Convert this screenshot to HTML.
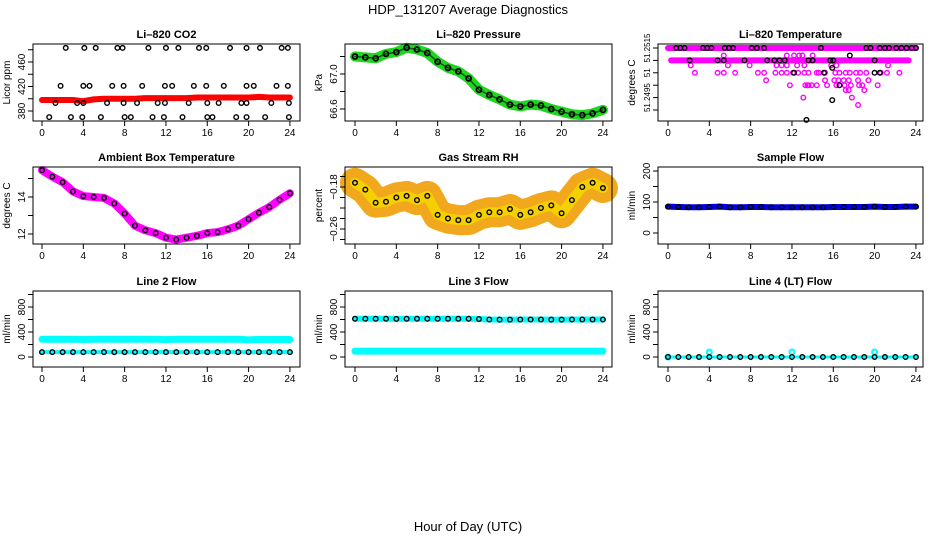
<!DOCTYPE html>
<html><head><meta charset="utf-8"><style>
html,body{margin:0;padding:0;background:#fff}
svg{display:block;font-family:"Liberation Sans",sans-serif}
</style></head><body>
<svg id="c" width="936" height="540" viewBox="0 0 936 540">
<text x="468" y="14" text-anchor="middle" font-size="13">HDP_131207  Average Diagnostics</text>
<text x="468" y="531" text-anchor="middle" font-size="13">Hour of Day (UTC)</text>
</svg>
<script>
// ---------- data ----------
const xTicks=[0,4,8,12,16,20,24];
const hours=[0,1,2,3,4,5,6,7,8,9,10,11,12,13,14,15,16,17,18,19,20,21,22,23,24];
// CO2
const co2Band=[398,398,398,398,396,399,400,400,400,400,401,401,401,401,401,402,402,402,402,402,402,403,402,402,402];
const co2HiHours=[2.3,4.1,5.2,7.3,7.8,10.3,12.0,13.2,15.2,15.9,18.2,19.8,21.1,23.2,23.8];
const co2MidHours=[1.8,4.0,4.6,6.8,7.9,9.7,11.9,12.6,14.7,15.9,17.6,19.8,20.5,22.7,23.8];
const co2BaseHours=[1.3,3.4,4.0,6.3,7.9,9.2,11.2,11.9,14.2,16.0,17.1,19.3,19.8,22.2,23.9];
const co2LowHours=[0.7,2.8,3.9,5.7,8.0,8.6,10.7,11.8,13.6,16.0,16.5,18.8,19.8,21.6,23.9];
const co2Levels=[483,421,393,370];
// Pressure
const pressure=[67.2,67.19,67.18,67.23,67.25,67.30,67.28,67.24,67.14,67.07,67.03,66.95,66.82,66.76,66.71,66.65,66.63,66.65,66.64,66.60,66.57,66.54,66.53,66.55,66.59];
// Li-820 temperature
const tTopBlack=[0.8,1.2,1.6,3.4,3.8,4.2,5.5,5.9,6.3,8.1,8.6,9.3,14.8,19.2,19.6,20.5,21,21.4,22.1,22.6,23.1,23.6,24];
const t2Black=[2.1,4.8,5.4,7.4,9.6,10.3,10.8,11.3,13.6,14.0,15.7,16.0,20.0];
const tOtherBlackH=[17.6,15.9,12.2,15.1,20.0,20.5,16.6,15.9,13.4];
const tOtherBlackV=[51.2512,51.2507,51.2505,51.2505,51.2505,51.2505,51.25,51.2494,51.2486];
const tMagH=[5.4,11.5,12.2,12.7,13.0,14.0, 2.2,5.8,7.9,10.5,11.0,11.5,12.5,13.2,15.8,16.3,21.3, 2.6,4.8,5.4,6.5,8.7,9.3,10.4,11.0,11.5,12.1,12.6,13.2,13.6,14.4,15.2,16.2,16.6,17.2,17.6,18.2,18.6,19.2,20.6,21.2,22.4, 14.6,15.2,16.1,16.5,17.0,17.5,18.4,19.4, 9.5,11.8,13.3,13.6,13.9,14.4,15.4,16.3,17.1,17.7,18.5,18.8,20.3, 13.5,17.5,19.0,17.2,17.8,13.1,18.4];
const tMagV=[51.2512,51.2512,51.2512,51.2512,51.2512,51.2512, 51.2508,51.2508,51.2508,51.2508,51.2508,51.2508,51.2508,51.2508,51.2508,51.2508,51.2508, 51.2505,51.2505,51.2505,51.2505,51.2505,51.2505,51.2505,51.2505,51.2505,51.2505,51.2505,51.2505,51.2505,51.2505,51.2505,51.2505,51.2505,51.2505,51.2505,51.2505,51.2505,51.2505,51.2505,51.2505,51.2505,51.2505, 51.2502,51.2502,51.2502,51.2502,51.2502,51.2502,51.2502,51.2502, 51.25,51.25,51.25,51.25,51.25,51.25,51.25,51.25,51.25,51.25,51.25,51.25,51.25, 51.2498,51.2498,51.2498,51.2495,51.2495,51.2492,51.2492];
// Ambient
const ambient=[15.45,15.1,14.8,14.3,14.05,14.0,13.95,13.65,13.1,12.45,12.2,12.05,11.8,11.7,11.8,11.9,12.05,12.1,12.25,12.45,12.8,13.15,13.45,13.85,14.2];
// RH
const rh=[-0.172,-0.185,-0.21,-0.208,-0.20,-0.197,-0.205,-0.197,-0.233,-0.24,-0.243,-0.243,-0.233,-0.228,-0.228,-0.222,-0.233,-0.228,-0.22,-0.215,-0.23,-0.205,-0.18,-0.172,-0.182];
// Flows
const sampleFlow=[85,84,83,83,84,85,83,83,84,84,83,83,83,83,83,83,84,84,84,84,85,84,84,85,85];
const line2Cyan=[285,285,285,285,280,285,285,285,285,285,285,285,278,285,285,285,285,285,285,285,275,280,280,280,280];
const line2Black=[78,78,78,78,78,78,78,78,78,78,78,78,78,78,78,78,78,78,78,78,78,78,78,78,78];
const line3Black=[612,612,612,612,610,612,612,612,612,612,612,612,608,600,598,598,600,600,600,598,598,600,600,600,600];
const line3Cyan=[94,94,94,94,94,94,94,94,94,94,94,94,94,94,94,94,94,94,94,94,94,94,94,94,94];
const line4Black=[0,0,0,0,0,0,0,0,0,0,0,0,0,0,0,0,0,0,0,0,0,0,0,0,0];
const line4CyanH=[0,4,12,20];
const line4CyanV=[0,80,80,80];

// ---------- drawing ----------
const svg=document.getElementById('c');
const NS='http://www.w3.org/2000/svg';
function mk(tag,attrs,parent){const e=document.createElementNS(NS,tag);for(const k in attrs)e.setAttribute(k,attrs[k]);(parent||svg).appendChild(e);return e;}
const cols=[{x0:33,x1:300,xz:42},{x0:345,x1:612,xz:355},{x0:658,x1:923,xz:668}];
const rows=[{y0:44,y1:121},{y0:167,y1:244},{y0:291,y1:367}];
const PXH=10.33;

function panel(name,c,r,title,ylab,yfn,yt,ylabs,lfs){
  const g=mk('g',{});
  
  
  const C=cols[c],R=rows[r];
  const xf=h=>C.xz+h*PXH;
  const t=mk('text',{x:(C.x0+C.x1)/2,y:R.y0-6,'text-anchor':'middle','font-size':11,'font-weight':'bold'},g);
  t.textContent=title;
  
  
  const yl=mk('text',{transform:`translate(${C.x0-23},${(R.y0+R.y1)/2}) rotate(-90)`,'text-anchor':'middle','font-size':10},g);
  yl.textContent=ylab;
  
  
  const plot=mk('g',{},g);
  
  
  const ax=mk('g',{stroke:'#000','stroke-width':1,fill:'none'},g);
  
  
  mk('rect',{x:C.x0,y:R.y0,width:C.x1-C.x0,height:R.y1-R.y0},ax);
  mk('line',{x1:xf(0),x2:xf(24),y1:R.y1,y2:R.y1},ax);
  xTicks.forEach(v=>{
    const x=xf(v);
    mk('line',{x1:x,x2:x,y1:R.y1,y2:R.y1+5},ax);
    const tl=mk('text',{x:x,y:R.y1+15,'text-anchor':'middle','font-size':10},g);
    tl.textContent=v;
    
    
  });
  mk('line',{x1:C.x0,x2:C.x0,y1:yfn(yt[0]),y2:yfn(yt[yt.length-1])},ax);
  yt.forEach(v=>{const y=yfn(v);mk('line',{x1:C.x0-5,x2:C.x0,y1:y,y2:y},ax);});
  ylabs.forEach(([v,s])=>{
    const y=yfn(v);
    const tl=mk('text',{transform:`translate(${C.x0-8},${y}) rotate(-90)`,'text-anchor':'middle','font-size':lfs||10},g);
    tl.textContent=s;
    
    
  });
  return {g:plot,xf,yfn};
}
function band(P,hs,vs,color,w,name){
  const pts=hs.map((h,i)=>P.xf(h)+','+P.yfn(vs[i])).join(' ');
  const pl=mk('polyline',{points:pts,fill:'none',stroke:color,'stroke-width':w,'stroke-linejoin':'round','stroke-linecap':'round'},P.g);
  
  
}
function pts(P,hs,vs,color,name,r,sw){
  hs.forEach((h,i)=>{
    const v=Array.isArray(vs)?vs[i]:vs;
    const ci=mk('circle',{cx:P.xf(h),cy:P.yfn(v),r:r||2.3,fill:'none',stroke:color,'stroke-width':sw||1.4},P.g);
    
    
  });
}
function ticks(a,b,s){const o=[];for(let v=a;v<=b+1e-9;v+=s)o.push(+v.toFixed(6));return o;}

// CO2
let P=panel('co2',0,0,'Li\u2013820 CO2','Licor ppm',v=>111-(v-380)*0.6125,ticks(380,480,20),[[380,'380'],[420,'420'],[460,'460']]);
band(P,hours,co2Band,'#f00',6,'co2-band');
[co2HiHours,co2MidHours,co2BaseHours,co2LowHours].forEach((hs,i)=>pts(P,hs,co2Levels[i],'#000','co2-point'));
// Pressure
P=panel('pressure',1,0,'Li\u2013820 Pressure','kPa',v=>109-(v-66.6)*87.5,[66.6,66.8,67.0,67.2],[[66.6,'66.6'],[67.0,'67.0']]);
band(P,hours,pressure,'#1fd61f',10,'pressure-band');
band(P,hours,pressure,'#0a5a0a',1.5,'pressure-line');
pts(P,hours,pressure,'#000','pressure-point',2.5,1.8);
// Temperature
P=panel('li820-temp',2,0,'Li\u2013820 Temperature','degrees C',v=>48+(51.2515-v)*24800,[51.2515,51.251,51.2505,51.25,51.2495,51.249],[[51.2515,'51.2515'],[51.2505,'51'],[51.2495,'51.2495']],8);
band(P,[0,24],[51.2515,51.2515],'#f0f',6,'temp-band-top');
band(P,[0.3,23.3],[51.251,51.251],'#f0f',6,'temp-band-second');
pts(P,tMagH,tMagV,'#f0f','temp-magenta-point');
pts(P,tTopBlack,51.2515,'#000','temp-point');
pts(P,t2Black,51.251,'#000','temp-point');
pts(P,tOtherBlackH,tOtherBlackV,'#000','temp-point');
// Ambient
P=panel('ambient',0,1,'Ambient Box Temperature','degrees C',v=>234-(v-12)*18.5,[12,13,14,15],[[12,'12'],[14,'14']]);
band(P,hours,ambient,'#f0f',8,'ambient-band');
pts(P,hours,ambient,'#000','ambient-point');
// RH
P=panel('rh',1,1,'Gas Stream RH','percent',v=>187+(-0.18-v)*525,[-0.16,-0.18,-0.20,-0.22,-0.24,-0.26,-0.28],[[-0.18,'\u22120.18'],[-0.26,'\u22120.26']]);
band(P,hours,rh,'#f2a81c',30,'rh-cloud');
band(P,hours,rh,'#f5d000',10,'rh-cloud-core');
pts(P,hours,rh,'#000','rh-point');
// Sample flow
P=panel('sample-flow',2,1,'Sample Flow','ml/min',v=>233-v*0.31,[0,50,100,150,200],[[0,'0'],[100,'100'],[200,'200']]);
band(P,hours,sampleFlow,'#0000e0',6,'sample-flow-band');
pts(P,hours,sampleFlow,'#000','sample-flow-point');
// Line flows
const fy=v=>357-v*0.0625;
const ft=[0,200,400,600,800,1000],fl=[[0,'0'],[400,'400'],[800,'800']];
P=panel('line2',0,2,'Line 2 Flow','ml/min',fy,ft,fl);
band(P,hours,line2Cyan,'#0ff',7,'line2-cyan-band');
band(P,hours,line2Black,'#0ff',4,'line2-cyan-low');
pts(P,hours,line2Black,'#000','line2-point');
P=panel('line3',1,2,'Line 3 Flow','ml/min',fy,ft,fl);
band(P,hours,line3Black,'#0ff',6,'line3-cyan-band');
band(P,hours,line3Cyan,'#0ff',7,'line3-cyan-low');
pts(P,hours,line3Black,'#000','line3-point');
P=panel('line4',2,2,'Line 4 (LT) Flow','ml/min',fy,ft,fl);
band(P,hours,line4Black,'#0ff',3,'line4-cyan-band');
pts(P,line4CyanH,line4CyanV,'#0ff','line4-cyan-point',2.5,2);
pts(P,hours,line4Black,'#000','line4-point');
</script>
</body></html>
